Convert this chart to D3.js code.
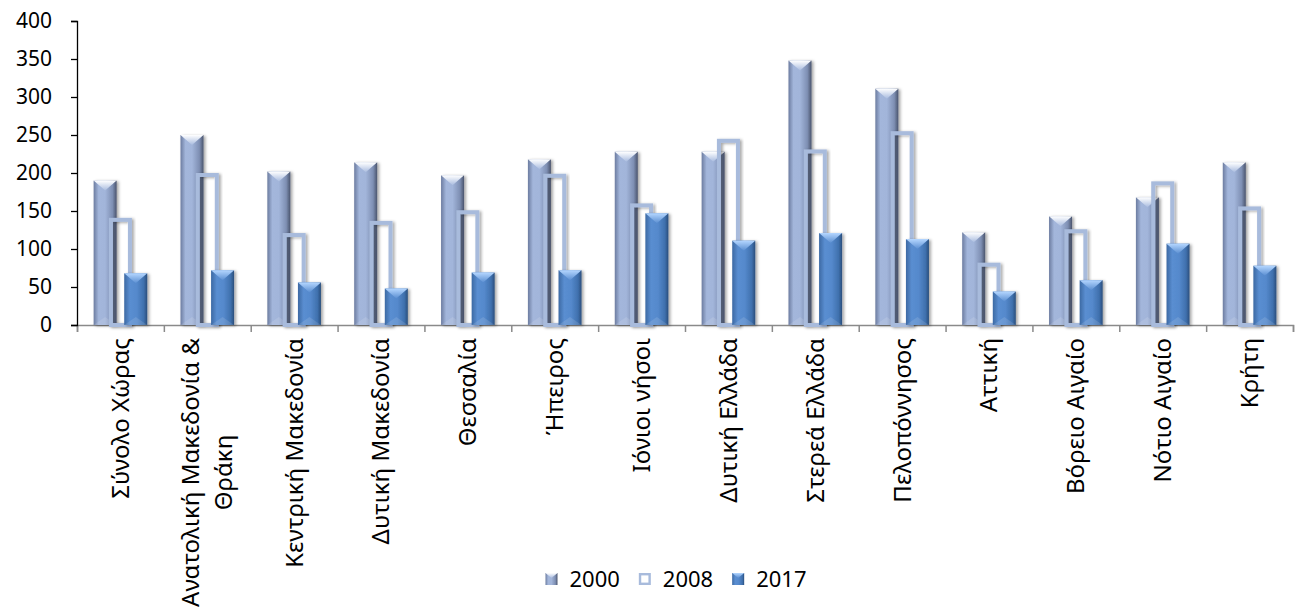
<!DOCTYPE html>
<html lang="el">
<head>
<meta charset="UTF-8">
<title>Περιφέρειες 2000 / 2008 / 2017</title>
<script src="https://d3js.org/d3.v7.min.js"></script>
<style>
  body, html { margin: 0; background: #fff; }
  svg { display: block; }
  text { font-family: "Noto Sans", sans-serif; fill: #000; }
</style>
</head>
<body>
<script>
const categories = ["Σύνολο Χώρας", "Ανατολική Μακεδονία & Θράκη", "Κεντρική Μακεδονία",
  "Δυτική Μακεδονία", "Θεσσαλία", "Ήπειρος", "Ιόνιοι νήσοι", "Δυτική Ελλάδα",
  "Στερεά Ελλάδα", "Πελοπόννησος", "Αττική", "Βόρειο Αιγαίο", "Νότιο Αιγαίο", "Κρήτη"];
// label line breaks as in the original
const labelLines = [["Σύνολο Χώρας"], ["Ανατολική Μακεδονία &", "Θράκη"], ["Κεντρική Μακεδονία"],
  ["Δυτική Μακεδονία"], ["Θεσσαλία"], ["Ήπειρος"], ["Ιόνιοι νήσοι"], ["Δυτική Ελλάδα"],
  ["Στερεά Ελλάδα"], ["Πελοπόννησος"], ["Αττική"], ["Βόρειο Αιγαίο"], ["Νότιο Αιγαίο"], ["Κρήτη"]];
const seriesNames = ["2000", "2008", "2017"];
const values2000 = [190, 250, 202, 214, 197, 218, 228, 228, 348, 311, 122, 143, 168, 214];
const values2008 = [141, 200, 121, 137, 151, 199, 160, 245, 231, 255, 82, 126, 189, 156];
const values2017 = [68, 72, 56, 48, 69, 72, 147, 111, 121, 113, 44, 59, 107, 78];
const yTicks = [0, 50, 100, 150, 200, 250, 300, 350, 400];

const width = 1299, height = 610;
const margin = { left: 77, right: 1293, top: 21, bottom: 325 };

const svg = d3.select("body").append("svg")
    .attr("width", width)
    .attr("height", height);

const defs = svg.append("defs");

function hGrad(id, stops) {
    const g = defs.append("linearGradient").attr("id", id)
        .attr("x1", "0").attr("x2", "1").attr("y1", "0").attr("y2", "0");
    stops.forEach(s => g.append("stop").attr("offset", s[0]).attr("stop-color", s[1]));
}
function vGrad(id, stops) {
    const g = defs.append("linearGradient").attr("id", id)
        .attr("x1", "0").attr("x2", "0").attr("y1", "0").attr("y2", "1");
    stops.forEach(s => g.append("stop").attr("offset", s[0]).attr("stop-color", s[1]));
}
hGrad("g2000", [[0, "#6c7ca0"], [0.22, "#a3b6db"], [0.5, "#a2b5da"], [0.82, "#7e8fb3"], [1, "#4a546d"]]);
hGrad("g2017", [[0, "#3c69a3"], [0.25, "#5a8ed1"], [0.55, "#5589cc"], [0.85, "#3f70ad"], [1, "#2a4e7c"]]);
vGrad("t2000", [[0, "#ffffff"], [1, "#a8bbdf"]]);
vGrad("t2017", [[0, "#b4d6ff"], [1, "#5a8ed1"]]);

const shadow = defs.append("filter").attr("id", "shadow")
    .attr("x", "-20%").attr("y", "-5%").attr("width", "150%").attr("height", "115%");
shadow.append("feDropShadow").attr("dx", 2).attr("dy", 1)
    .attr("stdDeviation", 1.5).attr("flood-color", "#000").attr("flood-opacity", 0.35);

const x = d3.scaleBand().domain(categories).range([margin.left, margin.right]).padding(0);
const xEdge = d3.scaleLinear().domain([0, categories.length]).range([margin.left, margin.right]);
const offset = d3.scalePoint().domain(seriesNames).range([-15.3, 15.3]);
const barW = 23;
const y = d3.scaleLinear().domain([0, 400]).range([margin.bottom, margin.top]);

const rows = categories.map((c, i) => ({ c, v: [values2000[i], values2008[i], values2017[i]] }));

// x axis (gray, ticks on category edges)
const xAxis = svg.append("g")
    .attr("transform", `translate(0,${margin.bottom})`)
    .call(d3.axisBottom(xEdge).tickValues(d3.range(categories.length + 1)).tickFormat("").tickSize(7));
xAxis.selectAll("path, line").attr("stroke", "#8a8a8a").attr("stroke-width", 1.5);

function bevelBar(g, name, fillId, topId, d) {
    const cx = x(d.c) + x.bandwidth() / 2 + offset(name);
    const x0 = cx - barW / 2, y0 = y(d.v[seriesNames.indexOf(name)]);
    const h = y(0) - y0;
    const bar = g.append("g").attr("filter", "url(#shadow)");
    bar.append("rect").attr("x", x0).attr("y", y0).attr("width", barW).attr("height", h)
        .attr("fill", `url(#${fillId})`);
    bar.append("path")
        .attr("d", `M${x0},${y0}L${x0 + barW},${y0}L${cx},${y0 + 10}Z`)
        .attr("fill", `url(#${topId})`);
    bar.append("path")
        .attr("d", `M${x0},${y(0)}L${x0 + barW},${y(0)}L${cx},${y(0) - 8}Z`)
        .attr("fill", "#ffffff").attr("opacity", 0.12);
}

const bars = svg.append("g");
rows.forEach(d => {
    bevelBar(bars, "2000", "g2000", "t2000", d);
    const cx = x(d.c) + x.bandwidth() / 2 + offset("2008");
    bars.append("rect")
        .attr("x", cx - barW / 2 + 2).attr("y", y(d.v[1]) + 2)
        .attr("width", barW - 4).attr("height", y(0) - y(d.v[1]) - 2)
        .attr("fill", "none").attr("stroke", "#a8bbdc").attr("stroke-width", 4)
        .attr("filter", "url(#shadow)");
    bevelBar(bars, "2017", "g2017", "t2017", d);
});

// y axis
const yAxis = svg.append("g")
    .attr("transform", `translate(${margin.left},0)`)
    .call(d3.axisLeft(y).tickValues(yTicks).tickSize(6).tickPadding(19));
yAxis.selectAll("path, line").attr("stroke", "#000").attr("stroke-width", 1.3);
yAxis.selectAll("text").attr("font-size", 21).attr("font-family", "Noto Sans").attr("fill", "#000");

// rotated category labels
const labelSize = 24, lineGap = 33;
const labels = svg.append("g").selectAll("text")
    .data(categories)
    .join("text")
    .attr("font-size", labelSize)
    .attr("text-anchor", "middle")
    .attr("transform", d => `translate(${x(d) + x.bandwidth() / 2},338) rotate(-90)`);
labels.each(function (d, i) {
    const t = d3.select(this);
    const lines = labelLines[i];
    lines.forEach((ln, j) => {
        t.append("tspan").attr("x", 0)
            .attr("y", (j - (lines.length - 1) / 2) * lineGap)
            .attr("dy", "0.35em").text(ln);
    });
    const maxW = d3.max(t.selectAll("tspan").nodes(), n => n.getComputedTextLength());
    t.selectAll("tspan").attr("x", -maxW / 2);
});

// legend
const legend = svg.append("g");
const items = legend.selectAll("g").data(seriesNames).join("g");
items.append("text").attr("x", 24).attr("y", 0).attr("dy", "0.35em")
    .attr("font-size", 22).text(d => d);
let pos = 0;
items.each(function () {
    const w = d3.select(this).select("text").node().getComputedTextLength();
    d3.select(this).attr("transform", `translate(${pos},0)`);
    pos += 24 + w + 19;
});
pos -= 19;
legend.attr("transform", `translate(${676 - pos / 2},579)`);
items.filter(d => d === "2000").append("rect")
    .attr("x", 0).attr("y", -6).attr("width", 12).attr("height", 12).attr("fill", "url(#g2000)");
items.filter(d => d === "2000").append("path").attr("d", "M0,-6L12,-6L6,-1Z").attr("fill", "url(#t2000)");
items.filter(d => d === "2008").append("rect")
    .attr("x", 1.2).attr("y", -4.8).attr("width", 9.6).attr("height", 9.6)
    .attr("fill", "none").attr("stroke", "#a8bbdc").attr("stroke-width", 2.4);
items.filter(d => d === "2017").append("rect")
    .attr("x", 0).attr("y", -6).attr("width", 12).attr("height", 12).attr("fill", "url(#g2017)");
items.filter(d => d === "2017").append("path").attr("d", "M0,-6L12,-6L6,-1Z").attr("fill", "url(#t2017)");
</script>
</body>
</html>
